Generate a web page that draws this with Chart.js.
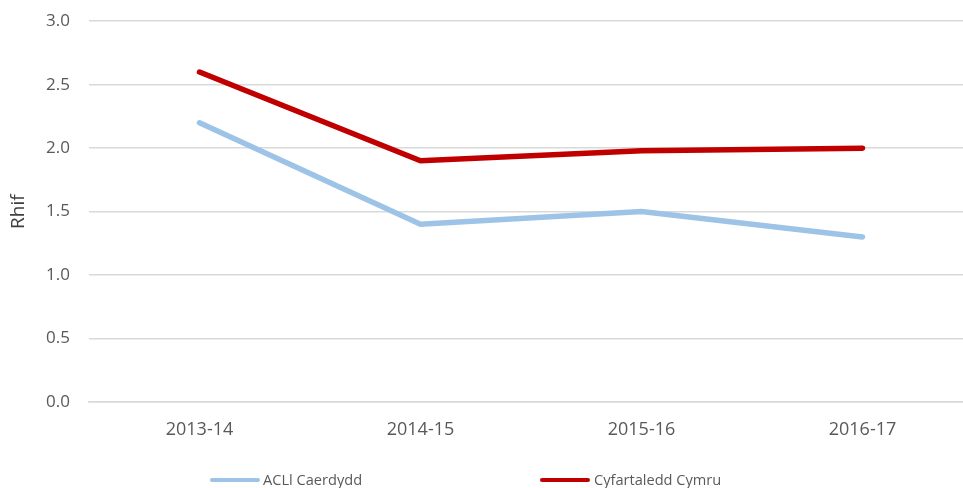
<!DOCTYPE html>
<html>
<head>
<meta charset="utf-8">
<script src="https://cdn.jsdelivr.net/npm/chart.js@4"></script>
<style>
  html, body { margin: 0; padding: 0; background: #fff; overflow: hidden; }
  #wrap { position: relative; width: 963px; height: 488px; overflow: hidden; }
  #lineChart { position: absolute; left: 0; top: -8px; }
  .leg { position: absolute; top: 469px; font-family: "Open Sans", sans-serif; font-size: 14.6px; color: #595959; white-space: nowrap; }
  .leg span.sw { position: absolute; top: 9px; width: 50px; height: 4px; border-radius: 2px; }
</style>
</head>
<body>
<div id="wrap">
  <canvas id="lineChart" width="973" height="496"></canvas>
  <div class="leg" style="left:210px"><span class="sw" style="left:0;background:#9DC3E6"></span><span style="position:absolute;left:53px;top:0">ACLl Caerdydd</span></div>
  <div class="leg" style="left:540px"><span class="sw" style="left:0;background:#C00000"></span><span style="position:absolute;left:54px;top:0">Cyfartaledd Cymru</span></div>
</div>
<script>
const years = ["2013-14", "2014-15", "2015-16", "2016-17"];
const caerdydd = [2.2, 1.4, 1.5, 1.3];
const cymru = [2.6, 1.9, 1.98, 2.0];

const ctx = document.getElementById("lineChart");

new Chart(ctx, {
  type: "line",
  data: {
    labels: years,
    datasets: [
      {
        label: "ACLl Caerdydd",
        data: caerdydd,
        borderColor: "#9DC3E6",
        borderWidth: 5.5,
        pointRadius: 0,
        borderCapStyle: "round",
        tension: 0,
      },
      {
        label: "Cyfartaledd Cymru",
        data: cymru,
        borderColor: "#C00000",
        borderWidth: 5.5,
        pointRadius: 0,
        borderCapStyle: "round",
        tension: 0,
      },
    ],
  },
  options: {
    responsive: false,
    animation: false,
    layout: { padding: { top: 13, left: 0, right: 0, bottom: 0 } },
    plugins: {
      legend: { display: false },
      tooltip: { enabled: false },
    },
    scales: {
      x: {
        offset: true,
        grid: { display: false, drawTicks: false },
        border: { display: true, color: "#d9d9d9", width: 1.5 },
        ticks: {
          padding: 17,
          color: "#595959",
          font: { family: "Open Sans", size: 18 },
        },
        afterFit: (scale) => { scale.height = 86; },
      },
      y: {
        min: 0,
        max: 3,
        ticks: {
          stepSize: 0.5,
          padding: 19,
          color: "#595959",
          font: { family: "Open Sans", size: 17 },
          callback: (v) => v.toFixed(1),
        },
        grid: { color: "#d9d9d9", lineWidth: 1.5, drawTicks: false },
        border: { display: false },
        title: {
          display: true,
          text: "Rhif",
          color: "#404040",
          font: { family: "Open Sans", size: 19 },
          padding: { top: 7, bottom: 4 },
        },
        afterFit: (scale) => { scale.width = 89; },
      },
    },
  },
});
</script>
</body>
</html>
